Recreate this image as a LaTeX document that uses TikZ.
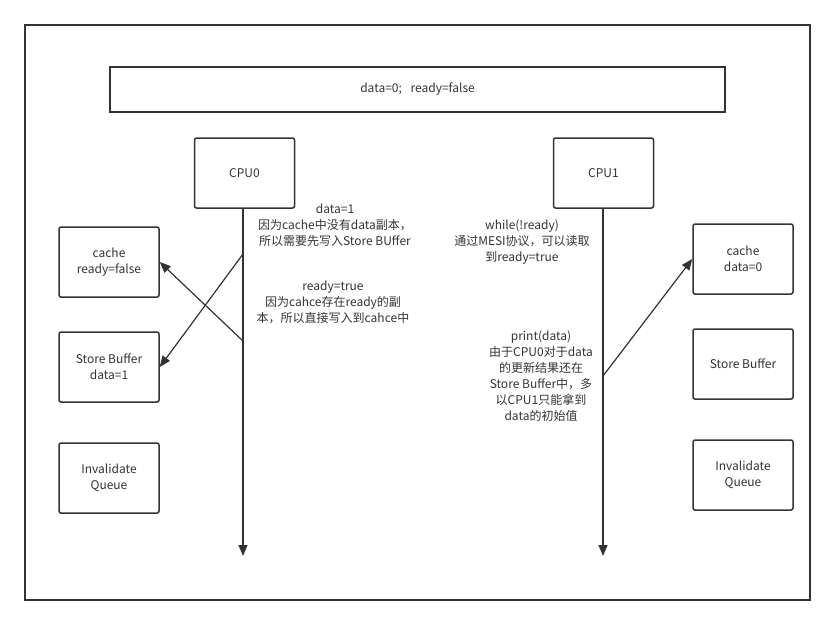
\documentclass[tikz,border=0pt]{standalone}
\usepackage{fontspec}
\setmainfont{Noto Sans CJK SC}
\usetikzlibrary{arrows.meta}
\definecolor{ink}{HTML}{333333}
\tikzset{
  unit/.style={draw=ink,line width=1.5pt,rounded corners=2pt,minimum width=100pt,minimum height=70pt,align=center,inner sep=2pt},
  note/.style={align=center,inner sep=0pt},
  msg/.style={draw=ink,line width=1.2pt,-{Triangle[length=11pt,width=9pt]}}
}
\begin{document}
\begin{tikzpicture}[x=1pt,y=-1pt,text=ink,font=\fontsize{12}{16}\selectfont]
  \useasboundingbox (0,0) rectangle (835,625);
  \draw[ink,line width=1.5pt] (25,25) rectangle (810,600);

  \node[draw=ink,line width=1.5pt,minimum width=615pt,minimum height=45pt] (init) at (417.5,89.5) {data=0;\enspace\ ready=false};

  % CPU0
  \node[unit] (cpu0) at (244.5,173) {CPU0};
  \node[unit] (cache0) at (109,262) {cache\\ready=false};
  \node[unit] (sb0) at (109,367) {Store Buffer\\data=1};
  \node[unit] (iq0) at (109,478) {Invalidate\\Queue};
  \coordinate (end0) at (243,556);
  \draw[msg] (cpu0.south -| end0) -- (end0);
  \coordinate (w0) at (243,254);
  \coordinate (r0) at (243,341);
  \draw[msg] (w0) -- (sb0.east);
  \draw[msg] (r0) -- (cache0.east);
  \node[note] (t1) at (335,225) {data=1\\因为cache中没有data副本，\\所以需要先写入Store BUffer};
  \node[note] (t2) at (333,302) {ready=true\\因为cahce存在ready的副\\本，所以直接写入到cahce中};

  % CPU1
  \node[unit] (cpu1) at (603.5,173) {CPU1};
  \node[unit] (cache1) at (743,259) {cache\\data=0};
  \node[unit] (sb1) at (743,364) {Store Buffer};
  \node[unit] (iq1) at (743,475) {Invalidate\\Queue};
  \coordinate (end1) at (603,556);
  \draw[msg] (cpu1.south -| end1) -- (end1);
  \coordinate (p1) at (603,376);
  \draw[msg] (p1) -- (cache1.west);
  \node[note] (t3) at (522,242) {while(!ready)\\通过MESI协议，可以读取\\到ready=true};
  \node[note] (t4) at (541,376) {print(data)\\由于CPU0对于data\\的更新结果还在\\Store Buffer中，多\\以CPU1只能拿到\\data的初始值};
\end{tikzpicture}
\end{document}
